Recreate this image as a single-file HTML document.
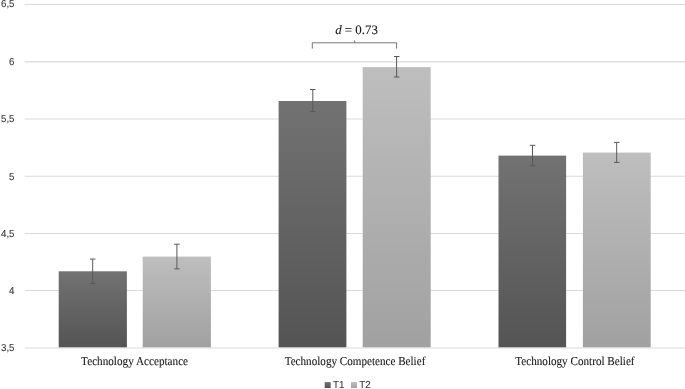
<!DOCTYPE html>
<html><head><meta charset="utf-8"><title>Chart</title>
<style>
html,body{margin:0;padding:0;background:#fff;}
body{width:685px;height:389px;overflow:hidden;}
svg{display:block;}
text{text-rendering:geometricPrecision;}
.ax{font-family:"Liberation Sans",sans-serif;font-size:10.1px;fill:#3c3c3c;stroke:#3c3c3c;stroke-width:0.12px;}
.cat{font-family:"Liberation Serif",serif;font-size:12px;fill:#1a1a1a;stroke:#1a1a1a;stroke-width:0.1px;}
.ann{font-family:"Liberation Serif",serif;font-size:12.9px;fill:#1a1a1a;stroke:#1a1a1a;stroke-width:0.1px;}
.leg{font-family:"Liberation Sans",sans-serif;font-size:10.2px;fill:#3c3c3c;stroke:#3c3c3c;stroke-width:0.12px;}
</style></head><body>
<svg width="685" height="389" viewBox="0 0 685 389">
<defs>
<linearGradient id="gd" x1="0" y1="0" x2="0" y2="1"><stop offset="0" stop-color="#727272"/><stop offset="1" stop-color="#545454"/></linearGradient>
<linearGradient id="gl" x1="0" y1="0" x2="0" y2="1"><stop offset="0" stop-color="#bebebe"/><stop offset="1" stop-color="#a1a1a1"/></linearGradient>
</defs>
<rect width="685" height="389" fill="#fff"/>
<g stroke="#dbdbdb" stroke-width="1.1" fill="none">
<line x1="24.7" x2="685" y1="4.5" y2="4.5"/>
<line x1="24.7" x2="685" y1="61.9" y2="61.9"/>
<line x1="24.7" x2="685" y1="119.0" y2="119.0"/>
<line x1="24.7" x2="685" y1="176.3" y2="176.3"/>
<line x1="24.7" x2="685" y1="233.5" y2="233.5"/>
<line x1="24.7" x2="685" y1="290.5" y2="290.5"/>
<line x1="24.7" x2="685" y1="348.0" y2="348.0"/>
</g>
<g>
<rect x="58.7" y="271.3" width="68.2" height="76.0" fill="url(#gd)"/>
<rect x="142.7" y="256.6" width="68.2" height="90.7" fill="url(#gl)"/>
<rect x="278.6" y="101.0" width="67.8" height="246.3" fill="url(#gd)"/>
<rect x="362.7" y="67.1" width="68.0" height="280.2" fill="url(#gl)"/>
<rect x="498.5" y="155.6" width="67.6" height="191.7" fill="url(#gd)"/>
<rect x="582.9" y="152.6" width="67.8" height="194.7" fill="url(#gl)"/>
</g>
<g stroke="#595959" stroke-width="1" fill="none">
<path d="M92.7 259.1V283.6M90 259.1h5.5M90 283.6h5.5"/>
<path d="M176.9 244.2V268.9M174.2 244.2h5.5M174.2 268.9h5.5"/>
<path d="M312.8 89.5V111.6M310 89.5h5.5M310 111.6h5.5"/>
<path d="M396.6 56.5V77M393.9 56.5h5.5M393.9 77h5.5"/>
<path d="M532.5 145.3V165.8M529.8 145.3h5.5M529.8 165.8h5.5"/>
<path d="M616.7 142.4V162.4M614 142.4h5.5M614 162.4h5.5"/>
</g>
<path d="M312.3 48.6V42.8H396.6V48.6M354.6 42.8V40.5" stroke="#757575" stroke-width="1" fill="none"/>
<text class="ann" x="335.2" y="33.6"><tspan font-style="italic">d</tspan> = 0.73</text>
<g class="ax" text-anchor="end">
<text transform="translate(14.5 7.3) scale(0.96 1)">6,5</text>
<text transform="translate(14.5 65.1) scale(0.96 1)">6</text>
<text transform="translate(14.5 122.4) scale(0.96 1)">5,5</text>
<text transform="translate(14.5 179.7) scale(0.96 1)">5</text>
<text transform="translate(14.5 236.9) scale(0.96 1)">4,5</text>
<text transform="translate(14.5 294.1) scale(0.96 1)">4</text>
<text transform="translate(14.5 351.3) scale(0.96 1)">3,5</text>
</g>
<g class="cat" text-anchor="middle">
<text transform="translate(134.6 364.8) scale(0.932 1)">Technology Acceptance</text>
<text transform="translate(355 364.8) scale(0.927 1)">Technology Competence Belief</text>
<text transform="translate(574.9 364.8) scale(0.929 1)">Technology Control Belief</text>
</g>
<rect x="324.7" y="382.1" width="6" height="5.9" fill="url(#gd)"/>
<rect x="351" y="382.1" width="6" height="5.9" fill="url(#gl)"/>
<text class="leg" transform="translate(333 387.9) scale(0.96 1)">T1</text>
<text class="leg" transform="translate(359.3 387.9) scale(0.96 1)">T2</text>
</svg>
</body></html>
